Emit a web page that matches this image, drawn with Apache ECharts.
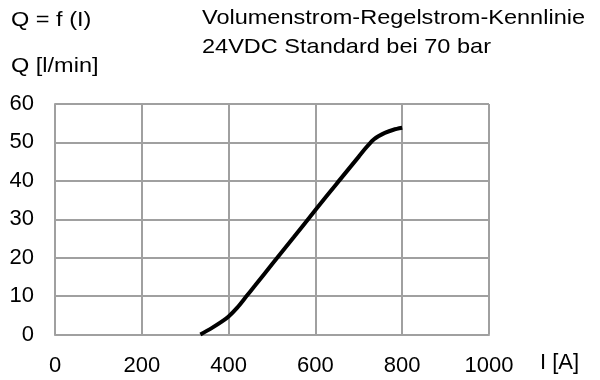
<!DOCTYPE html>
<html><head><meta charset="utf-8">
<script src="https://cdn.jsdelivr.net/npm/echarts@6/dist/echarts.min.js"></script>
<style>html,body{margin:0;padding:0;background:#fff}#c{width:600px;height:380px}</style>
</head><body><div id="c"></div>
<script>
var currentA = [335, 360, 385, 400, 420, 440, 460, 500, 550, 600, 650, 700, 715, 725, 735, 745, 760, 780, 800];
var flowQ    = [0, 1.6, 3.4, 4.7, 7.0, 9.8, 12.6, 18.3, 25.3, 32.4, 39.4, 46.3, 48.4, 49.7, 50.8, 51.6, 52.5, 53.3, 53.8];
var xTicks = [0, 200, 400, 600, 800, 1000];
var yTicks = [0, 10, 20, 30, 40, 50, 60];
var titleLine1 = 'Volumenstrom-Regelstrom-Kennlinie';
var titleLine2 = '24VDC Standard bei 70 bar';
var formulaText = 'Q = f (I)';
var yName = 'Q [l/min]';
var xName = 'I [A]';

var FONT = 'Liberation Sans, Arial, sans-serif';
var gridColor = '#a0a0a0';
var SX = 1.12;
function txt(s, x, y) {
  return {type: 'text', x: x, y: y, scaleX: SX, style: {text: s, fontFamily: FONT, fontSize: 21, fill: '#000', verticalAlign: 'middle', align: 'left'}};
}
var chart = echarts.init(document.getElementById('c'), null, {renderer:'canvas'});
chart.setOption({
  animation: false,
  textStyle: {fontFamily: FONT},
  graphic: [
    txt(formulaText, 11, 20),
    txt(titleLine1, 202, 18.5),
    txt(titleLine2, 202, 47),
    txt(yName, 11, 66)
  ],
  grid: {left: 55, right: 111, top: 104, bottom: 45.5, containLabel: false},
  xAxis: {
    type: 'value', min: xTicks[0], max: xTicks[xTicks.length-1], interval: xTicks[1]-xTicks[0],
    name: xName, nameLocation: 'end', nameGap: 0,
    nameTextStyle: {fontFamily: FONT, fontSize: 22, color: '#000', align: 'left', verticalAlign: 'top', padding: [17, 0, 0, 51]},
    axisLine: {show: true, lineStyle: {color: gridColor, width: 2}},
    axisTick: {show: false},
    axisLabel: {fontFamily: FONT, fontSize: 22, color: '#000', margin: 20, formatter: function(v){return String(v);}},
    splitLine: {show: true, lineStyle: {color: gridColor, width: 2}}
  },
  yAxis: {
    type: 'value', min: yTicks[0], max: yTicks[yTicks.length-1], interval: yTicks[1]-yTicks[0],
    axisLine: {show: true, lineStyle: {color: gridColor, width: 2}},
    axisTick: {show: false},
    axisLabel: {fontFamily: FONT, fontSize: 22, color: '#000', margin: 21, formatter: function(v){return String(v);}},
    splitLine: {show: true, lineStyle: {color: gridColor, width: 2}}
  },
  series: [{
    type: 'line', data: currentA.map(function(x,i){return [x, flowQ[i]];}),
    smooth: 0.25, symbol: 'none', lineStyle: {color: '#000', width: 4}, clip: false
  }]
});
</script></body></html>
